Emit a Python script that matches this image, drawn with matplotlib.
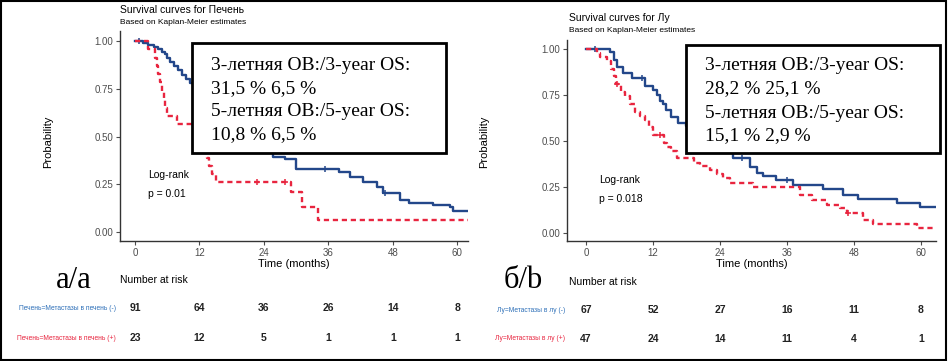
import numpy as np
import matplotlib
matplotlib.use("Agg")
import matplotlib.pyplot as plt
from matplotlib.patches import Rectangle
from matplotlib.transforms import blended_transform_factory

plt.rcParams['font.family'] = ['Liberation Sans', 'DejaVu Sans']

# ---- data ----
months = [0, 12, 24, 36, 48, 60]

# panel a: Печень
liver_neg_t = [0, 1.5, 2.5, 3.5, 4.2, 5.0, 5.5, 6.0, 6.5, 7.3, 8.0, 8.8, 9.5, 10.3, 11, 12, 13, 14,
               15, 16, 17, 18, 19, 20, 21, 22, 23, 24, 25.7, 28, 30, 38, 40, 42.5, 45, 46.2, 49.3,
               51, 55.5, 58.7, 59.2, 62]
liver_neg_s = [1.0, 0.989, 0.978, 0.967, 0.956, 0.945, 0.934, 0.912, 0.89, 0.868, 0.846, 0.824,
               0.802, 0.78, 0.758, 0.725, 0.70, 0.67, 0.64, 0.61, 0.58, 0.56, 0.53, 0.50, 0.48,
               0.46, 0.44, 0.42, 0.395, 0.384, 0.33, 0.316, 0.29, 0.26, 0.237, 0.205, 0.168,
               0.152, 0.142, 0.13, 0.108, 0.108]
liver_neg_cens = [0.8, 35.4, 46.6]

liver_pos_t = [0, 2.5, 3.7, 4.0, 4.3, 4.6, 5.0, 5.3, 5.6, 6.0, 7.9, 11.5, 12.5, 13.0, 13.4, 13.8,
               14.3, 15.0, 29.0, 31.0, 34.0, 62]
liver_pos_s = [1.0, 0.957, 0.913, 0.87, 0.826, 0.783, 0.739, 0.696, 0.652, 0.609, 0.565, 0.522,
               0.478, 0.435, 0.39, 0.348, 0.304, 0.26, 0.21, 0.13, 0.065, 0.065]
liver_pos_cens = [22.7, 28.0]

liver_risk_neg = [91, 64, 36, 26, 14, 8]
liver_risk_pos = [23, 12, 5, 1, 1, 1]

# panel b: Лу
lu_neg_t = [0, 4.3, 5.0, 5.5, 6.6, 8.2, 10.6, 12.0, 12.7, 13.3, 13.8, 14.4, 15.2, 16.5, 18, 19.5,
            21, 22.5, 24, 25.5, 26.3, 29.4, 30.6, 31.7, 34, 37, 42.4, 46, 48.7, 55.7, 59.8, 62.8]
lu_neg_s = [1.0, 0.985, 0.94, 0.90, 0.87, 0.845, 0.80, 0.78, 0.75, 0.72, 0.70, 0.67, 0.63, 0.60,
            0.58, 0.55, 0.52, 0.49, 0.47, 0.45, 0.41, 0.36, 0.327, 0.31, 0.29, 0.26, 0.237,
            0.205, 0.183, 0.163, 0.142, 0.142]
lu_neg_cens = [1.6, 10.0, 28.0, 36.0]

lu_pos_t = [0, 2.0, 2.5, 3.8, 4.5, 5.0, 5.4, 6.3, 7.0, 7.9, 8.8, 9.7, 10.6, 11.3, 12.0, 14.0,
            14.5, 15.2, 16.3, 19.3, 20.4, 22.2, 23.4, 24.5, 25.8, 29.9, 38.3, 40.5, 43.2, 45.5,
            46.7, 49.6, 51.4, 59.3, 62.8]
lu_pos_s = [1.0, 0.979, 0.957, 0.936, 0.894, 0.851, 0.809, 0.766, 0.745, 0.702, 0.66, 0.638,
            0.617, 0.574, 0.532, 0.489, 0.468, 0.447, 0.41, 0.383, 0.362, 0.34, 0.319, 0.298,
            0.27, 0.249, 0.207, 0.18, 0.153, 0.136, 0.109, 0.071, 0.049, 0.027, 0.027]
lu_pos_cens = [5.6, 13.2, 47.0]

lu_risk_neg = [67, 52, 27, 16, 11, 8]
lu_risk_pos = [47, 24, 14, 11, 4, 1]

box_a = ["3-летняя ОВ:/3-year OS:", "31,5 % 6,5 %", "5-летняя ОВ:/5-year OS:", "10,8 % 6,5 %"]
box_b = ["3-летняя ОВ:/3-year OS:", "28,2 % 25,1 %", "5-летняя ОВ:/5-year OS:", "15,1 % 2,9 %"]

BLUE = '#23478a'
RED = '#e8253f'
LBLUE = '#2d6fb8'
GREY = '#4d4d4d'

W, H = 948, 361
fig = plt.figure(figsize=(W / 100, H / 100), dpi=100)


def fx(px):
    return px / W


def fy(py):
    return 1 - py / H


def surv_at(t, s, c):
    idx = np.searchsorted(t, c, side='right') - 1
    return np.array(s)[idx]


def km_panel(ax, neg_t, neg_s, neg_c, pos_t, pos_s, pos_c, xlim, ylim):
    ax.step(neg_t, neg_s, where='post', color=BLUE, lw=1.7)
    ax.plot(neg_c, surv_at(neg_t, neg_s, neg_c), '+', color=BLUE, ms=5, mew=1.1)
    ax.step(pos_t, pos_s, where='post', color=RED, lw=1.7, ls=(0, (2.2, 1.6)))
    ax.plot(pos_c, surv_at(pos_t, pos_s, pos_c), '+', color=RED, ms=5, mew=1.1)
    ax.set_xlim(*xlim)
    ax.set_ylim(*ylim)
    ax.set_xticks(months)
    ax.set_yticks([0, 0.25, 0.5, 0.75, 1.0])
    ax.set_yticklabels(['0.00', '0.25', '0.50', '0.75', '1.00'])
    for sp in ['top', 'right']:
        ax.spines[sp].set_visible(False)
    for sp in ['left', 'bottom']:
        ax.spines[sp].set_color('#333333')
        ax.spines[sp].set_linewidth(1.0)
    ax.tick_params(labelsize=7, colors=GREY, length=3, width=0.8, pad=2)
    ax.set_xlabel('Time (months)', fontsize=8, labelpad=1)


def risk_rows(ax, y1, y2, lab_x, lab1, lab2, r1, r2):
    tr = blended_transform_factory(ax.transData, fig.transFigure)
    for m, a, b in zip(months, r1, r2):
        ax.text(m, fy(y1), str(a), transform=tr, ha='center', va='center', fontsize=7.5,
                fontweight='bold', color='#222222')
        ax.text(m, fy(y2), str(b), transform=tr, ha='center', va='center', fontsize=7.5,
                fontweight='bold', color='#222222')
    fig.text(fx(lab_x), fy(y1), lab1, ha='right', va='center', fontsize=4.8, color=LBLUE)
    fig.text(fx(lab_x), fy(y2), lab2, ha='right', va='center', fontsize=4.8, color=RED)


def stat_box(x0, y0, x1, y1, lines, tx, ty):
    fig.add_artist(Rectangle((fx(x0), fy(y1)), fx(x1 - x0), (y1 - y0) / H,
                             transform=fig.transFigure, facecolor='white',
                             edgecolor='black', lw=2.0, zorder=5))
    for i, line in enumerate(lines):
        fig.text(fx(tx), fy(ty[i]), line, ha='left', va='center', fontsize=14,
                 family='Liberation Serif', zorder=6)


# ---- panel a ----
ax1 = fig.add_axes([fx(120), fy(241), fx(348), (241 - 31.5) / H])
km_panel(ax1, liver_neg_t, liver_neg_s, liver_neg_cens, liver_pos_t, liver_pos_s,
         liver_pos_cens, (-2.8, 62), (-0.047, 1.05))
fig.text(fx(48), fy(142), 'Probability', rotation=90, ha='center', va='center', fontsize=8)
fig.text(fx(120), fy(10), 'Survival curves for Печень', ha='left', va='center', fontsize=7.5)
fig.text(fx(120), fy(23), 'Based on Kaplan-Meier estimates', ha='left', va='center', fontsize=6)
fig.text(fx(148), fy(175), 'Log-rank', ha='left', va='center', fontsize=7.5)
fig.text(fx(148), fy(194), 'p = 0.01', ha='left', va='center', fontsize=7.5)
fig.text(fx(74), fy(280), 'а/a', ha='center', va='center', fontsize=22,
         family='Liberation Serif')
fig.text(fx(120), fy(280), 'Number at risk', ha='left', va='center', fontsize=7.5)
risk_rows(ax1, 308, 338, 116, 'Печень=Метастазы в печень (-)', 'Печень=Метастазы в печень (+)',
          liver_risk_neg, liver_risk_pos)
stat_box(192, 43, 446, 153, box_a, 211, [66, 89, 112, 135])

# ---- panel b ----
ax2 = fig.add_axes([fx(567), fy(241), fx(369), (241 - 39.8) / H])
km_panel(ax2, lu_neg_t, lu_neg_s, lu_neg_cens, lu_pos_t, lu_pos_s, lu_pos_cens,
         (-3.4, 62.7), (-0.043, 1.05))
fig.text(fx(484), fy(142), 'Probability', rotation=90, ha='center', va='center', fontsize=8)
fig.text(fx(569), fy(18), 'Survival curves for Лу', ha='left', va='center', fontsize=7.5)
fig.text(fx(569), fy(31), 'Based on Kaplan-Meier estimates', ha='left', va='center', fontsize=6)
fig.text(fx(599), fy(180), 'Log-rank', ha='left', va='center', fontsize=7.5)
fig.text(fx(599), fy(199), 'p = 0.018', ha='left', va='center', fontsize=7.5)
fig.text(fx(523), fy(280), 'б/b', ha='center', va='center', fontsize=22,
         family='Liberation Serif')
fig.text(fx(569), fy(282), 'Number at risk', ha='left', va='center', fontsize=7.5)
risk_rows(ax2, 310, 339, 565, 'Лу=Метастазы в лу (-)', 'Лу=Метастазы в лу (+)',
          lu_risk_neg, lu_risk_pos)
stat_box(686, 45, 940, 153, box_b, 705, [65, 89, 113, 136])

# outer frame
fig.add_artist(Rectangle((0.001, 0.002), 0.997, 0.996, transform=fig.transFigure,
                         fill=False, edgecolor='black', lw=1.5, zorder=10))

fig.savefig('out.png', dpi=100)
